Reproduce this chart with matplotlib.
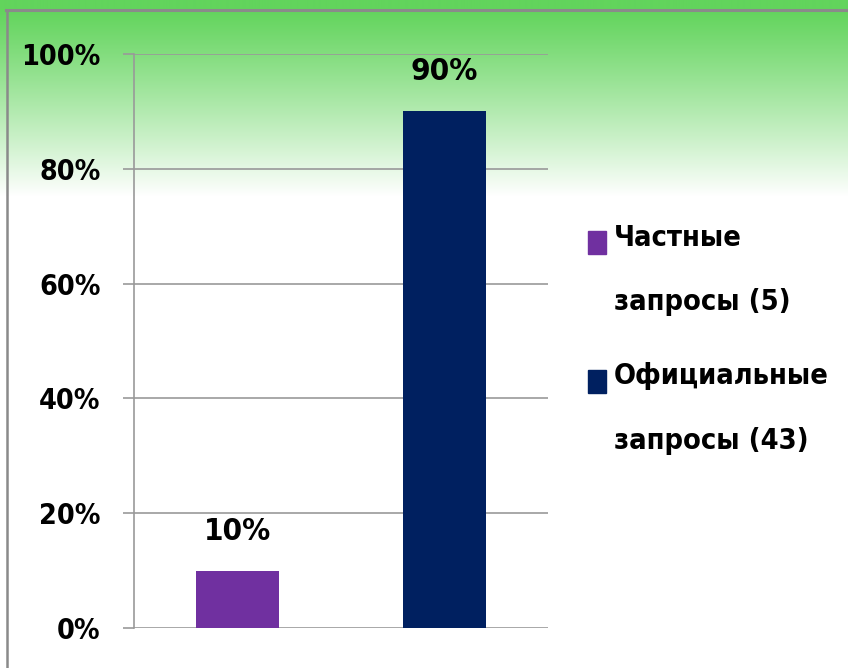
import matplotlib
matplotlib.use("Agg")
import matplotlib.pyplot as plt
import numpy as np
from matplotlib.patches import Rectangle
from matplotlib.lines import Line2D
from matplotlib import font_manager as fm

categories = ["Частные\nзапросы (5)", "Официальные\nзапросы (43)"]
values = [10, 90]
value_labels = ["10%", "90%"]
colors = ["#7030A0", "#002060"]
yticks = [0, 20, 40, 60, 80, 100]
ytick_labels = ["0%", "20%", "40%", "60%", "80%", "100%"]

# pick a condensed bold font if one is installed
cond = None
for f in fm.fontManager.ttflist:
    fn = f.fname.lower()
    if ('condensed' in fn or 'narrow' in fn or str(f.stretch) in ('condensed', 'semi-condensed', 'extra-condensed')) \
            and ('bold' in fn or (isinstance(f.weight, int) and f.weight >= 600) or f.weight == 'bold'):
        if 'mono' in fn or ('serif' in fn and 'sans' not in fn):
            continue
        cond = f.fname
        break

if cond:
    fp_base = dict(fname=cond)
    TICK, VAL, LEG = 20.5, 22.5, 20.8
else:
    fp_base = dict(family=['Roboto', 'DejaVu Sans'])
    TICK, VAL, LEG = 18, 20, 18


def FP(size):
    return fm.FontProperties(size=size, weight='bold', **fp_base)


W, H = 848, 668
fig = plt.figure(figsize=(W / 100, H / 100), dpi=100)

# background gradient
bg = fig.add_axes([0, 0, 1, 1], zorder=-10)
bg.set_axis_off()
ys = np.arange(H)
top = np.array([98, 212, 92]) / 255.0
white = np.array([1.0, 1.0, 1.0])
t = np.clip((ys - 8) / 188.0, 0, 1) ** 1.1
img = (top[None, :] * (1 - t[:, None]) + white[None, :] * t[:, None])
img = np.repeat(img[:, None, :], 4, axis=1)
bg.imshow(img, aspect='auto', extent=[0, W, H, 0], interpolation='bilinear')
bg.set_xlim(0, W)
bg.set_ylim(H, 0)
# frame lines
bg.add_line(Line2D([6, W], [9.5, 9.5], color='#8a8a8a', lw=2.2))
bg.add_line(Line2D([7, 7], [9.5, H], color='#8a8a8a', lw=1.8))

ax = fig.add_axes([134 / W, 1 - 628 / H, (548 - 134) / W, (628 - 54) / H])
ax.patch.set_alpha(0)
x = np.arange(len(values))
ax.bar(x, values, width=0.4, color=colors, zorder=3)
ax.set_xlim(-0.5, 1.5)
ax.set_ylim(0, 100)
ax.set_yticks(yticks)
ax.set_yticklabels(ytick_labels)
for tl in ax.get_yticklabels():
    tl.set_fontproperties(FP(TICK))
ax.set_xticks([])
ax.grid(axis='y', color='#999999', lw=1.2, zorder=0)
ax.tick_params(axis='y', length=8, width=1.2, color='#999999', pad=16)
for s in ['top', 'right', 'bottom']:
    ax.spines[s].set_visible(False)
ax.spines['left'].set_color('#999999')
ax.spines['left'].set_linewidth(1.2)

for xi, v, lab in zip(x, values, value_labels):
    ax.annotate(lab, (xi, v), xytext=(0, 18), textcoords='offset points',
                ha='center', va='bottom', fontproperties=FP(VAL))

# legend (manual)
leg_y = [242.5, 381.5]
for c, lab, yy in zip(colors, categories, leg_y):
    fig.patches.append(Rectangle((588 / W, 1 - (yy + 11.5) / H), 18 / W, 23 / H,
                                 transform=fig.transFigure, color=c))
    fig.text(614 / W, 1 - (yy - 19) / H, lab, ha='left', va='top',
             fontproperties=FP(LEG), linespacing=2.65)

fig.savefig("out.png", dpi=100)
